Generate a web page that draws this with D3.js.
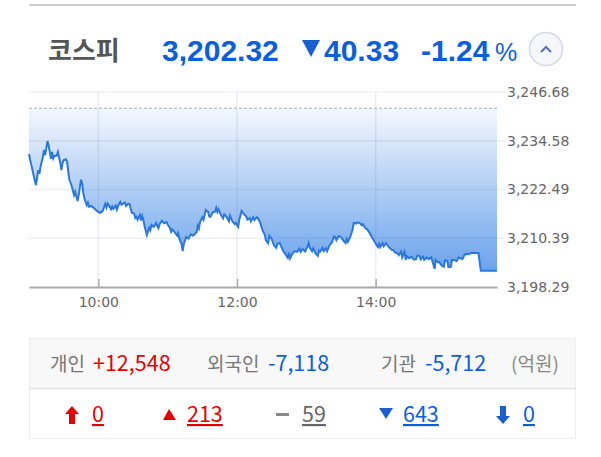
<!DOCTYPE html>
<html>
<head>
<meta charset="utf-8">
<script src="https://cdn.jsdelivr.net/npm/d3@7"></script>
<style>
html, body { margin: 0; padding: 0; background: #fff; }
svg { display: block; }
.kr { font-family: "Noto Sans CJK KR", sans-serif; }
.num { font-family: "Liberation Sans", Arial, sans-serif; font-weight: bold; }
.pct { font-family: "Liberation Sans", Arial, sans-serif; }
</style>
</head>
<body>
<svg id="chart" width="601" height="457"></svg>
<script>
// minutes after 09:00
var minutes = [0,1,2,4,6,8,9,10,12,13,14,16,17,19,20,21,22,24,25,27,28,29,30,32,33,34,35,37,39,40,42,43,44,45,46,47,48,50,51,52,54,56,58,60,62,64,65,66,67,68,69,71,72,73,75,76,78,79,80,81,83,84,86,87,88,89,91,92,93,94,96,97,98,99,100,102,103,104,105,106,108,110,111,112,113,115,117,119,120,122,123,124,126,128,129,130,131,132,133,134,136,138,140,142,144,145,146,147,148,150,151,153,155,156,157,159,161,162,163,164,166,168,169,171,173,174,176,178,179,181,182,184,186,188,189,191,192,194,195,197,198,200,202,204,205,207,208,210,212,214,215,217,219,220,222,224,225,226,228,230,232,234,235,237,239,241,242,243,245,246,248,250,251,252,254,255,257,258,260,262,264,265,266,268,270,272,274,275,276,278,280,281,283,284,286,288,289,291,293,295,297,299,301,302,303,304,306,307,309,310,312,314,315,317,319,320,322,323,325,326,327,329,331,333,335,336,338,339,341,342,344,346,348,349,351,352,354,355,357,359,360,362,363,365,366,368,370,372,373,375,377,378,380,383,386,389,391,405];
var prices = [3231.3,3229.8,3228.6,3226,3223.6,3227.3,3226.4,3228.1,3230.6,3232.3,3231,3234.5,3233.4,3230.1,3231.8,3230.2,3230.8,3230.9,3231.8,3229.2,3227.3,3229,3229.8,3230,3229.3,3226.8,3224.9,3223.3,3221.1,3221.9,3219.6,3221.1,3223,3224.9,3224,3221.6,3220.2,3218.6,3219.2,3218.2,3218.4,3217.9,3217.4,3216.9,3216.7,3217.2,3218.2,3218.9,3218,3219,3218.6,3217.6,3218.3,3217.7,3218.5,3217.5,3219,3219.4,3218.7,3218.9,3219.2,3218.4,3219,3218.9,3217.7,3216.7,3216.5,3215.4,3215.7,3215,3216.2,3214.8,3215.9,3214.9,3213.4,3211.2,3212.2,3213,3212.4,3213.7,3213.2,3214.2,3213.4,3212.9,3213.9,3214.7,3214.1,3214.4,3213.8,3212.9,3212,3212.6,3211.9,3211.1,3211.7,3210.4,3209.6,3209,3207.2,3209,3210.7,3210.3,3211.4,3211,3211.6,3211.9,3213.5,3212.8,3214.4,3215.6,3215,3217.4,3216.9,3215.8,3215.7,3216.8,3217,3217.9,3216.9,3217.6,3216.2,3215.3,3216.3,3215.7,3214.6,3216,3214.6,3213.9,3214.2,3213.2,3215,3217.2,3216.4,3215.8,3215,3215.4,3214.6,3215.6,3214.9,3215.6,3215.4,3214.3,3212.4,3211.3,3209.9,3209.2,3211,3210.2,3208.6,3208,3209,3209.2,3207.8,3207.2,3206.4,3205.5,3206.8,3205.4,3206.6,3207.2,3207,3207.8,3207,3207.7,3207.1,3208.3,3209.2,3208,3207.2,3207.9,3206.6,3206,3207.3,3207.1,3208,3207.2,3207.9,3207.2,3208.6,3209.3,3210.8,3210.7,3209.9,3210.9,3210.7,3209.8,3209.2,3210.2,3209.5,3210.7,3212.5,3214.2,3214,3214.3,3214.2,3213.6,3213.9,3212.9,3212.5,3211.6,3210.5,3209.6,3208.6,3208.2,3209,3208.2,3209.2,3208.4,3209.2,3208.7,3208,3207.5,3207.5,3206.8,3206.6,3206.2,3207.1,3205.6,3207,3205,3205.9,3205.4,3205.8,3205.1,3205.2,3206.1,3206,3205.1,3205.8,3205,3205.6,3205.2,3205.7,3204.8,3202.8,3205,3204.4,3204.5,3203.6,3203.3,3204.9,3204.8,3203.2,3203.3,3205,3205,3204.7,3205.6,3205.5,3205.2,3206.3,3206.5,3206.4,3206.7,3206.7,3206.7,3202.3,3202.32];
var prevClose = 3242.65;
var yTicks = [3198.29, 3210.39, 3222.49, 3234.58, 3246.68];
var xTicks = [60, 180, 300];
var xLabels = ["10:00", "12:00", "14:00"];
var investors = ["개인", "외국인", "기관"];
var investorValues = ["+12,548", "-7,118", "-5,712"];
var breadth = ["0", "213", "59", "643", "0"];

var BLUE = "#0a5fdc", RED = "#e60000", GREY = "#666";

var svg = d3.select("#chart");
var x = d3.scaleLinear().domain([0, 405]).range([29, 497]);
var y = d3.scaleLinear().domain([yTicks[0], yTicks[4]]).range([287, 92]);

// top rule
svg.append("rect").attr("x", 29).attr("y", 4).attr("width", 547).attr("height", 2).attr("fill", "#cdcdd2");

// header
svg.append("text").attr("class", "kr").attr("x", 48).attr("y", 60).attr("font-size", 26).attr("font-weight", 700)
    .attr("fill", "#555").text("코스피");
svg.append("text").attr("class", "num").attr("x", 162).attr("y", 61).attr("font-size", 30).attr("fill", BLUE).text("3,202.32");
svg.append("path").attr("d", "M302,40H320L311,57Z").attr("fill", "#1a5fd0");
svg.append("text").attr("class", "num").attr("x", 324).attr("y", 61).attr("font-size", 30).attr("fill", BLUE).text("40.33");
svg.append("text").attr("class", "num").attr("x", 421).attr("y", 61).attr("font-size", 30).attr("fill", BLUE).text("-1.24");
svg.append("text").attr("class", "pct").attr("x", 495).attr("y", 61).attr("font-size", 25).attr("fill", BLUE).text("%");
svg.append("circle").attr("cx", 546).attr("cy", 49).attr("r", 16.5).attr("fill", "#f6f7fc").attr("stroke", "#d5d7e4").attr("stroke-width", 1.5);
svg.append("path").attr("d", "M541,52L546,47L551,52").attr("fill", "none").attr("stroke", "#5a6fc0").attr("stroke-width", 2);

// fill between previous close and the price line
var grad = svg.append("defs").append("linearGradient").attr("id", "fill")
    .attr("gradientUnits", "userSpaceOnUse").attr("x1", 0).attr("x2", 0)
    .attr("y1", y(prevClose)).attr("y2", y(prices[prices.length - 1]));
grad.append("stop").attr("offset", 0).attr("stop-color", "#f4f8fe");
grad.append("stop").attr("offset", 1).attr("stop-color", "#6ba3ec");

var area = d3.area().x(function(d, i) { return x(minutes[i]); }).y0(y(prevClose)).y1(function(d) { return y(d); });
var line = d3.line().x(function(d, i) { return x(minutes[i]); }).y(function(d) { return y(d); });
svg.append("path").datum(prices).attr("d", area).attr("fill", "url(#fill)");

// grid
svg.selectAll(".hgrid").data(yTicks.slice(1)).enter().append("line").attr("class", "hgrid")
    .attr("x1", 29).attr("x2", 505).attr("y1", y).attr("y2", y).attr("stroke", "#5a6e96").attr("stroke-opacity", 0.1).attr("stroke-width", 1.5);
svg.selectAll(".vgrid").data(xTicks).enter().append("line").attr("class", "vgrid")
    .attr("x1", x).attr("x2", x).attr("y1", 92).attr("y2", 287).attr("stroke", "#5a6e96").attr("stroke-opacity", 0.13).attr("stroke-width", 1.5);

svg.append("line").attr("x1", 29).attr("x2", 497).attr("y1", y(prevClose)).attr("y2", y(prevClose))
    .attr("stroke", "#aaa").attr("stroke-width", 1.2).attr("stroke-dasharray", "3,2");
svg.append("path").datum(prices).attr("d", line).attr("fill", "none").attr("stroke", "#2a78de").attr("stroke-width", 2);

// axes
var xAxis = d3.axisBottom(x).tickValues(xTicks).tickFormat(function(d, i) { return xLabels[i]; }).tickSizeInner(-8).tickSizeOuter(0).tickPadding(7);
var gx = svg.append("g").attr("transform", "translate(0,287)").call(xAxis);
gx.select(".domain").attr("stroke", "#aaa").attr("stroke-width", 2);
gx.selectAll(".tick line").attr("stroke", "#aaa").attr("stroke-width", 1.5);
gx.selectAll("text").attr("font-family", "'DejaVu Sans', sans-serif").attr("font-size", 14).attr("fill", "#666").attr("dy", "0.9em");

var yAxis = d3.axisRight(y).tickValues(yTicks).tickFormat(d3.format(",.2f")).tickSize(0).tickPadding(10);
var gy = svg.append("g").attr("transform", "translate(497,0)").call(yAxis);
gy.select(".domain").remove();
gy.selectAll("text").attr("font-family", "'DejaVu Sans', sans-serif").attr("font-size", 14).attr("fill", "#666");

// investor table
svg.append("rect").attr("x", 29.5).attr("y", 338.5).attr("width", 546).attr("height", 100).attr("fill", "#fff").attr("stroke", "#eee");
svg.append("rect").attr("x", 30).attr("y", 339).attr("width", 545).attr("height", 49).attr("fill", "#f8f8f8");
svg.append("line").attr("x1", 29).attr("x2", 576).attr("y1", 388.5).attr("y2", 388.5).attr("stroke", "#e2e2e2").attr("stroke-width", 1.5);

var investorX = [50, 207, 381];
var valueX = [93, 268, 425];
svg.selectAll(".inv").data(investors).enter().append("text").attr("class", "kr inv")
    .attr("x", function(d, i) { return investorX[i]; }).attr("y", 371).attr("font-size", 19).attr("fill", "#777").text(function(d) { return d; });
svg.selectAll(".invv").data(investorValues).enter().append("text").attr("class", "kr invv")
    .attr("x", function(d, i) { return valueX[i]; }).attr("y", 371).attr("font-size", 21.5)
    .attr("fill", function(d) { return d[0] === "+" ? RED : BLUE; }).text(function(d) { return d; });
svg.append("text").attr("class", "kr").attr("x", 511).attr("y", 371).attr("font-size", 19).attr("fill", "#888").text("(억원)");

// up / down counts
var breadthX = [92, 187, 302, 403, 523];
var breadthColor = [RED, RED, GREY, BLUE, BLUE];
svg.selectAll(".cnt").data(breadth).enter().append("text").attr("class", "kr cnt")
    .attr("x", function(d, i) { return breadthX[i]; }).attr("y", 422).attr("font-size", 21.5)
    .attr("text-decoration", "underline")
    .attr("fill", function(d, i) { return breadthColor[i]; }).text(function(d) { return d; });

svg.append("path").attr("d", "M65,414L72,406L79,414H75V424H69V414Z").attr("fill", RED);
svg.append("path").attr("d", "M163,420L169,409L176,420Z").attr("fill", RED);
svg.append("rect").attr("x", 276).attr("y", 413).attr("width", 13).attr("height", 3).attr("fill", "#888");
svg.append("path").attr("d", "M379,408H393L386,419Z").attr("fill", "#1a5fd0");
svg.append("path").attr("d", "M500,406H506V416H510L503,424L496,416H500Z").attr("fill", "#1a5fd0");
</script>
</body>
</html>
